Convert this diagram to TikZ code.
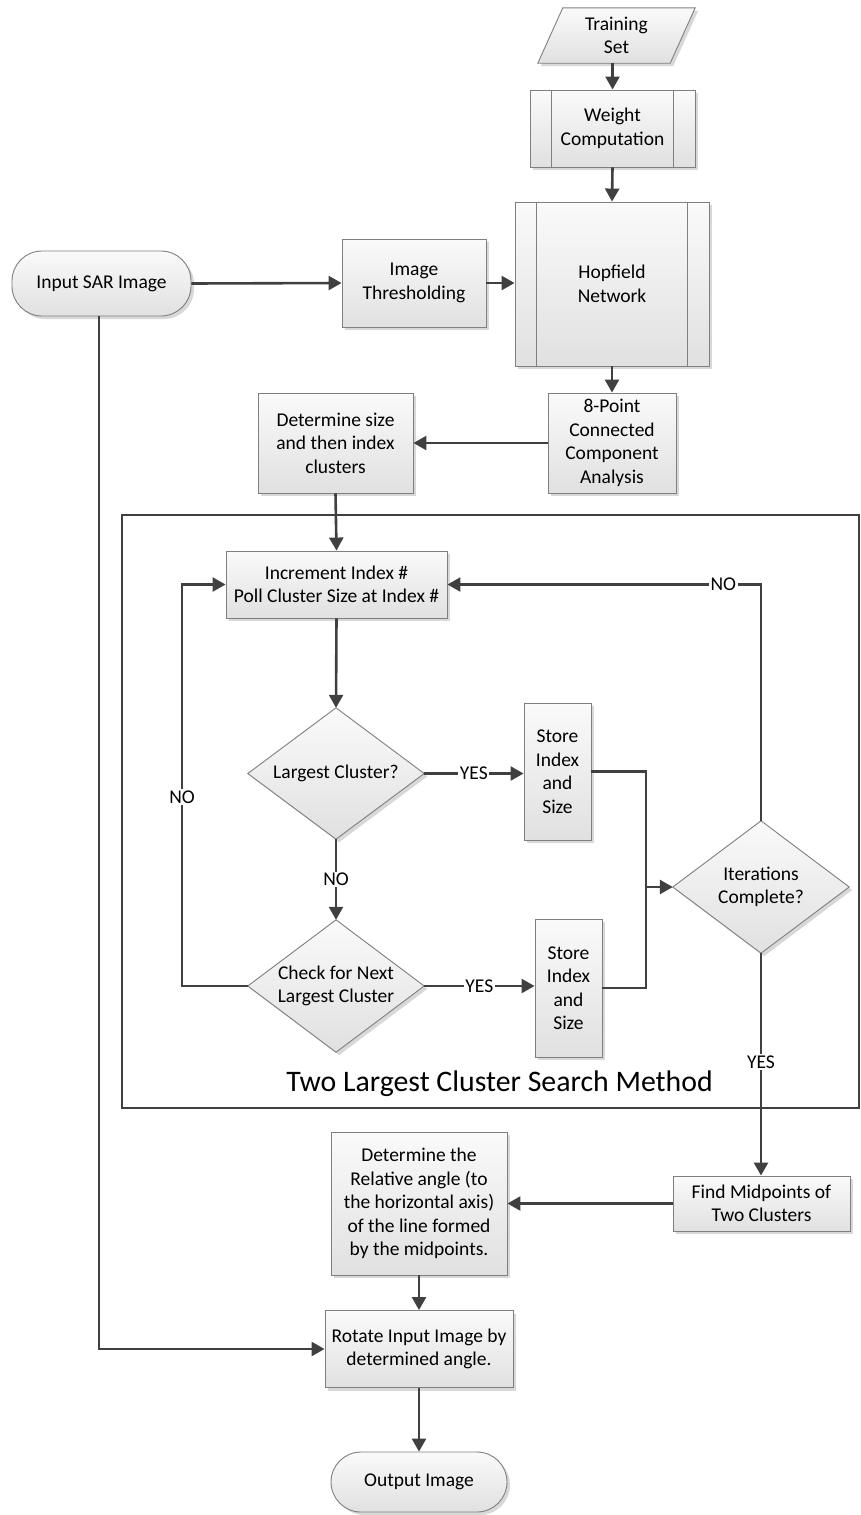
\documentclass[tikz,border=0pt]{standalone}
\usepackage{fontspec}
\setmainfont{Carlito}
\usetikzlibrary{arrows.meta,backgrounds}
\newcommand\chartfont{\fontsize{19.5pt}{23.5pt}\selectfont}
\newcommand\framefont{\fontsize{29.8pt}{35pt}\selectfont}
\definecolor{edgegray}{HTML}{404040}
\definecolor{rimgray}{HTML}{7F7F7F}
\definecolor{shadegray}{HTML}{D8D8D8}
\begin{document}
\begin{tikzpicture}[x=1pt,y=-1pt,
  shell/.style={draw=rimgray, line width=0.9pt, top color=white!98!black, bottom color=white!88!black,
    preaction={fill=shadegray, transform canvas={xshift=3pt,yshift=-3pt}}},
  box/.style={shell, rectangle, align=center, font=\chartfont, inner sep=2pt, text=black},
  term/.style={box, rounded corners=30pt},
  spot/.style={rectangle, align=center, font=\chartfont, inner sep=0pt, text=black},
  rim/.style={draw=rimgray, line width=0.9pt},
  arr/.style={draw=edgegray, line width=2.6pt, -{Triangle[length=13pt,width=14pt]}},
  ln/.style={draw=edgegray, line width=2.6pt},
  lab/.style={fill=white, inner sep=1.5pt, font=\chartfont, text=black},
]
\useasboundingbox (0,0) rectangle (861,1515);

% ---- nodes ----
\node[spot, minimum width=132pt, minimum height=55pt] (train) at (616.5,35.5) {Training\\Set};
\node[box, minimum width=165pt, minimum height=77pt] (weight) at (612.5,128.5) {Weight\\Computation};
\node[box, minimum width=194pt, minimum height=164pt] (hop) at (612,284) {Hopfield\\Network};
\node[box, minimum width=144pt, minimum height=88pt] (thr) at (414,283) {Image\\Thresholding};
\node[term, minimum width=179pt, minimum height=65pt] (input) at (101.5,283.5) {Input SAR Image};
\node[box, minimum width=128pt, minimum height=100pt] (cc) at (612,443) {8-Point\\Connected\\Component\\Analysis};
\node[box, minimum width=155pt, minimum height=100pt] (dsz) at (335.5,443) {Determine size\\and then index\\clusters};
\node[box, minimum width=221pt, minimum height=67pt] (inc) at (336.5,584.5) {Increment Index \#\\Poll Cluster Size at Index \#};
\node[spot, minimum width=176pt, minimum height=131pt] (lc) at (336,773.5) {Largest Cluster?};
\node[box, minimum width=67pt, minimum height=137pt] (st1) at (557.5,771.5) {Store\\Index\\and\\Size};
\node[spot, minimum width=176pt, minimum height=132pt] (nc) at (336,986) {Check for Next\\Largest Cluster};
\node[box, minimum width=67pt, minimum height=138pt] (st2) at (568.5,988) {Store\\Index\\and\\Size};
\node[spot, minimum width=176pt, minimum height=132pt] (it) at (761,887) {Iterations\\Complete?};
\node[box, minimum width=177pt, minimum height=55pt] (fm) at (761.5,1203.5) {Find Midpoints of\\Two Clusters};
\node[box, minimum width=176pt, minimum height=143pt] (dr) at (419,1203.5) {Determine the\\Relative angle (to\\the horizontal axis)\\of the line formed\\by the midpoints.};
\node[box, minimum width=188pt, minimum height=77pt] (rot) at (419,1349) {Rotate Input Image by\\determined angle.};
\node[term, minimum width=176pt, minimum height=60pt] (out) at (419,1482) {Output Image};

% ---- decision diamonds and data parallelogram ----
\begin{pgfonlayer}{background}
\foreach \d in {lc,nc,it}
  \path[shell] (\d.north) -- (\d.east) -- (\d.south) -- (\d.west) -- cycle;
\path[shell] ([xshift=12.5pt]train.north west) -- ([xshift=12.5pt]train.north east)
  -- ([xshift=-12.5pt]train.south east) -- ([xshift=-12.5pt]train.south west) -- cycle;
\end{pgfonlayer}

% ---- predefined-process side bars ----
\foreach \s in {weight,hop} {
  \draw[rim] ([xshift=22pt]\s.north west) -- ([xshift=22pt]\s.south west);
  \draw[rim] ([xshift=-22pt]\s.north east) -- ([xshift=-22pt]\s.south east);
}

% ---- search-method frame ----
\draw[ln] (122,515) rectangle (859,1108);
\node[font=\framefont, text=black] (frametitle) at (499.5,1084) {Two Largest Cluster Search Method};

% ---- connectors ----
\draw[arr] (weight.north |- train.south) -- (weight.north);
\draw[arr] (weight.south) -- (hop.north);
\draw[arr] (input.east) -- (thr.west);
\draw[arr] (thr.east) -- (thr.east -| hop.west);
\draw[arr] (hop.south) -- (cc.north);
\draw[arr] (cc.west) -- (dsz.east);
\draw[arr] (dsz.south) -- (inc.north);
\draw[arr] (inc.south) -- (lc.north);
\draw[arr] (lc.east) -- node[lab]{YES} (lc.east -| st1.west);
\draw[arr] (lc.south) -- node[lab]{NO} (nc.north);
\draw[arr] (nc.east) -- node[lab]{YES} (nc.east -| st2.west);
\coordinate (loopL) at (182,986);
\draw[arr] (nc.west) -- (loopL) -- node[lab,pos=0.47]{NO} (loopL |- inc.west) -- (inc.west);
\coordinate (merge) at (646,887);
\draw[ln] (st1.east) -| (merge);
\draw[ln] (st2.east) -| (merge);
\draw[arr] (merge) -- (it.west);
\draw[arr] (it.north) -- (it.north |- inc.east) -- node[lab,pos=0.12]{NO} (inc.east);
\draw[arr] (it.south) -- node[lab,pos=0.49]{YES} (it.south |- fm.north);
\draw[arr] (fm.west) -- (dr.east);
\draw[arr] (dr.south) -- (rot.north);
\draw[arr] ([xshift=-2.5pt]input.south) -- ([xshift=-2.5pt]input.south |- rot.west) -- (rot.west);
\draw[arr] (rot.south) -- (out.north);
\end{tikzpicture}
\end{document}
